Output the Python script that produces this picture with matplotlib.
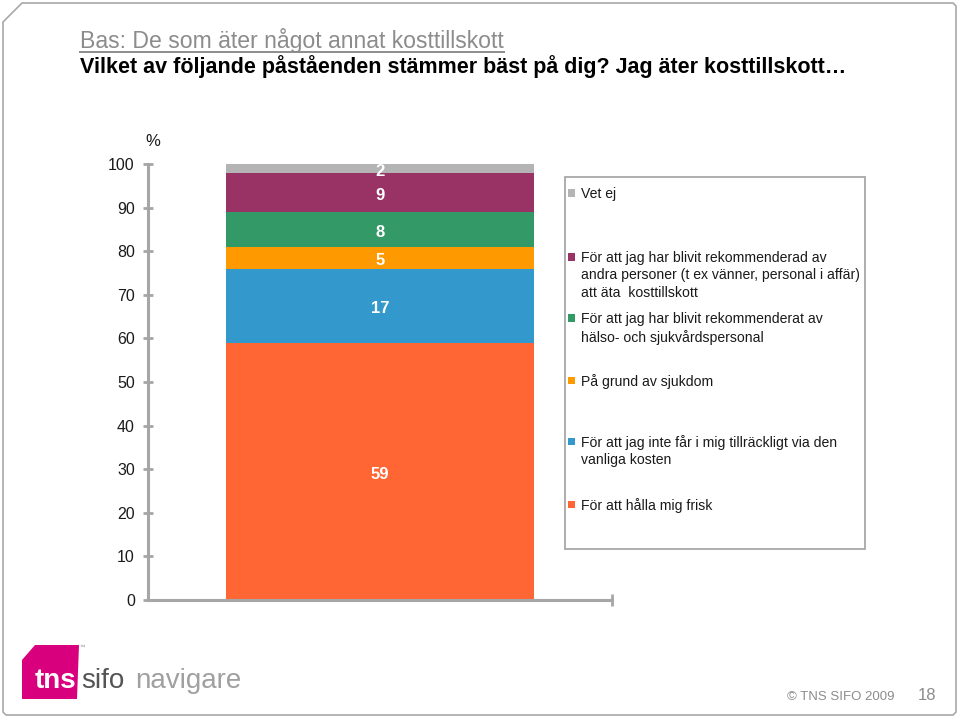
import matplotlib
matplotlib.use("Agg")
import matplotlib.pyplot as plt
from matplotlib.patches import Rectangle, Polygon
from matplotlib.lines import Line2D

plt.rcParams['font.family'] = ['Liberation Sans', 'DejaVu Sans']

# ---- data ----
categories = [
    "För att hålla mig frisk",
    "För att jag inte får i mig tillräckligt via den\nvanliga kosten",
    "På grund av sjukdom",
    "För att jag har blivit rekommenderat av\nhälso- och sjukvårdspersonal",
    "För att jag har blivit rekommenderad av\nandra personer (t ex vänner, personal i affär)\natt äta  kosttillskott",
    "Vet ej",
]
values = [59, 17, 5, 8, 9, 2]
colors = ["#FF6633", "#3399CC", "#FF9900", "#339966", "#993366", "#B4B4B4"]
yticks = [0, 10, 20, 30, 40, 50, 60, 70, 80, 90, 100]

W, H = 960, 719
fig = plt.figure(figsize=(W / 100, H / 100), dpi=100)

def fx(px):
    return px / W

def fy(py):
    return 1 - py / H

# slide border
border = Polygon([(fx(3), fy(22)), (fx(22), fy(3)), (fx(953), fy(3)), (fx(956), fy(6)),
                  (fx(956), fy(712)), (fx(953), fy(715)), (fx(6), fy(715)), (fx(3), fy(712))],
                 closed=True, transform=fig.transFigure, facecolor="none",
                 edgecolor="#A8A8A8", linewidth=1.2, zorder=-1)
fig.patches.append(border)

# ---- axes ----
ax = fig.add_axes([fx(148), fy(600), fx(612) - fx(148), fy(164) - fy(600)])
ax.set_xlim(-0.5, 0.5)
ax.set_ylim(0, 100)

bottom = 0
for v, c in zip(values, colors):
    ax.bar([0], [v], bottom=bottom, width=0.662, color=c, zorder=2)
    ax.annotate(str(v), (0, bottom + v / 2), xytext=(0, -2), textcoords="offset points",
                ha="center", va="center", color="white", fontsize=12, fontweight="bold",
                zorder=3)
    bottom += v

for s in ["top", "right"]:
    ax.spines[s].set_visible(False)
for s in ["left", "bottom"]:
    ax.spines[s].set_color("#A6A6A6")
    ax.spines[s].set_linewidth(2.2)
ax.set_yticks(yticks)
ax.set_yticklabels([str(t) for t in yticks])
ax.tick_params(axis="y", direction="inout", length=7, width=2, color="#A6A6A6",
               labelsize=11.5, labelcolor="#1a1a1a", pad=6)
ax.set_xticks([0.5])
ax.set_xticklabels([""])
ax.tick_params(axis="x", direction="inout", length=8, width=2, color="#A6A6A6")
ax.patch.set_alpha(0)

fig.text(fx(145), fy(141), "%", fontsize=12, color="#1a1a1a", ha="left", va="center")

# ---- legend (manual, boxed) ----
fig.patches.append(Rectangle((fx(565), fy(549)), fx(865) - fx(565), fy(177) - fy(549),
                             transform=fig.transFigure, facecolor="white",
                             edgecolor="#A8A8A8", linewidth=1.3, zorder=1))
first_line_y = [193, 257, 318, 380, 441, 504]
for i, (lab, c) in enumerate(zip(categories[::-1], colors[::-1])):
    y = first_line_y[i]
    fig.patches.append(Rectangle((fx(568), fy(y + 3.5)), fx(7), 7 / H,
                                 transform=fig.transFigure, facecolor=c,
                                 edgecolor="none", zorder=2))
    fig.text(fx(581), fy(y - 6), lab, fontsize=10.1, color="#1a1a1a",
             ha="left", va="top", linespacing=1.3, zorder=3)

# ---- titles ----
t1 = fig.text(fx(80), fy(48), "Bas: De som äter något annat kosttillskott",
              fontsize=16.6, color="#8C8C8C", ha="left", va="baseline")
t2 = fig.text(fx(80), fy(73), "Vilket av följande påståenden stämmer bäst på dig? Jag äter kosttillskott…",
              fontsize=15.5, fontweight="bold", color="black", ha="left", va="baseline")
fig.canvas.draw()
bb = t1.get_window_extent(fig.canvas.get_renderer())
fig.lines.append(Line2D([bb.x0 / W, bb.x1 / W], [fy(52), fy(52)],
                        transform=fig.transFigure, color="#8C8C8C", linewidth=1.4))

# ---- logo ----
fig.patches.append(Polygon([(fx(22), fy(660)), (fx(35), fy(645)), (fx(79), fy(645)),
                            (fx(77), fy(699)), (fx(22), fy(699))],
                           closed=True, transform=fig.transFigure,
                           facecolor="#D9007E", edgecolor="none"))
fig.text(fx(35), fy(688), "tns", fontsize=20, fontweight="bold", color="white",
         ha="left", va="baseline")
fig.text(fx(81), fy(688), "sifo", fontsize=20, color="#555555", ha="left", va="baseline")
fig.text(fx(135), fy(688), "navigare", fontsize=20, color="#A0A0A0", ha="left", va="baseline")
fig.text(fx(80), fy(647), "™", fontsize=4, color="#888888", ha="left", va="center")

fig.text(fx(787), fy(700), "© TNS SIFO 2009", fontsize=9.5, color="#8C8C8C",
         ha="left", va="baseline")
fig.text(fx(918), fy(700), "18", fontsize=12, color="#8C8C8C", ha="left", va="baseline")

fig.savefig("out.png", dpi=100)
